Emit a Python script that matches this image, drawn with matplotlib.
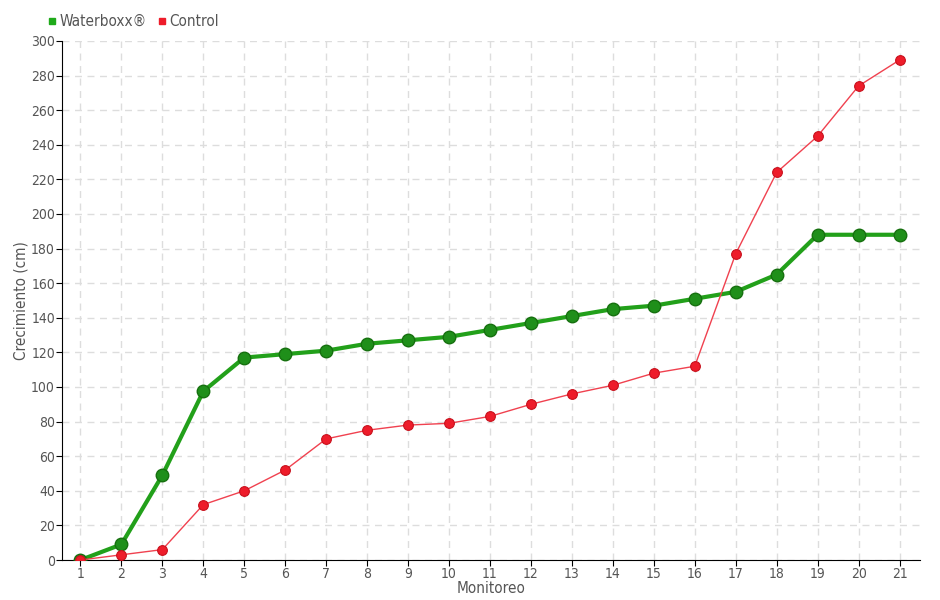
import matplotlib
matplotlib.use("Agg")
import matplotlib.pyplot as plt
from matplotlib.lines import Line2D

plt.rcParams['font.family'] = ['DejaVu Sans']
plt.rcParams['font.stretch'] = 'condensed'

monitoreo = list(range(1, 22))
waterboxx = [0, 9, 49, 97.5, 117, 119, 121, 125, 127, 129, 133, 137, 141, 145, 147, 151, 155, 165, 188, 188, 188]
control = [0, 3, 6, 32, 40, 52, 70, 75, 78, 79, 83, 90, 96, 101, 108, 112, 177, 224, 245, 274, 289]
yticks = list(range(0, 301, 20))

fig = plt.figure(figsize=(9.4, 6.0), dpi=100)
ax = fig.add_axes([62/940, 40/600, (920-62)/940, (560-41)/600])

red = '#ee1c2a'
ax.plot(monitoreo, waterboxx, color='#22a01a', lw=3, marker='o', ms=9,
        mfc='#1f8f1a', mec='#16700f', mew=1, zorder=3)
ax.plot(monitoreo, control, color='#f0414f', lw=1, marker='o', ms=7,
        mfc=red, mec='#c8101c', mew=0.8, zorder=4)

ax.set_xlim(0.55, 21.5)
ax.set_ylim(0, 300)
ax.set_xticks(monitoreo)
ax.set_yticks(yticks)
ax.tick_params(labelcolor='#555555', labelsize=10, length=4, color='black', pad=1)
ax.grid(True, color='#dddddd', linestyle=(0, (5, 4)), lw=1)
ax.set_axisbelow(True)
for s in ['top', 'right']:
    ax.spines[s].set_visible(False)
ax.spines['left'].set_color('black')
ax.spines['bottom'].set_color('black')
ax.set_xlabel('Monitoreo', color='#555555', fontsize=11, labelpad=0)
ax.set_ylabel('Crecimiento (cm)', color='#555555', fontsize=11, labelpad=2)

handles = [Line2D([], [], ls='', marker='s', ms=5, color='#1faa1a'),
           Line2D([], [], ls='', marker='s', ms=5, color=red)]
fig.legend(handles, ['Waterboxx®', 'Control'], loc='upper left',
           bbox_to_anchor=(44/940, 1 - 14/600), ncol=2, frameon=False,
           fontsize=11, handletextpad=0.0, columnspacing=0.5, labelcolor='#555555',
           borderaxespad=0, borderpad=0, handlelength=1)

fig.savefig('out.png', dpi=100)
